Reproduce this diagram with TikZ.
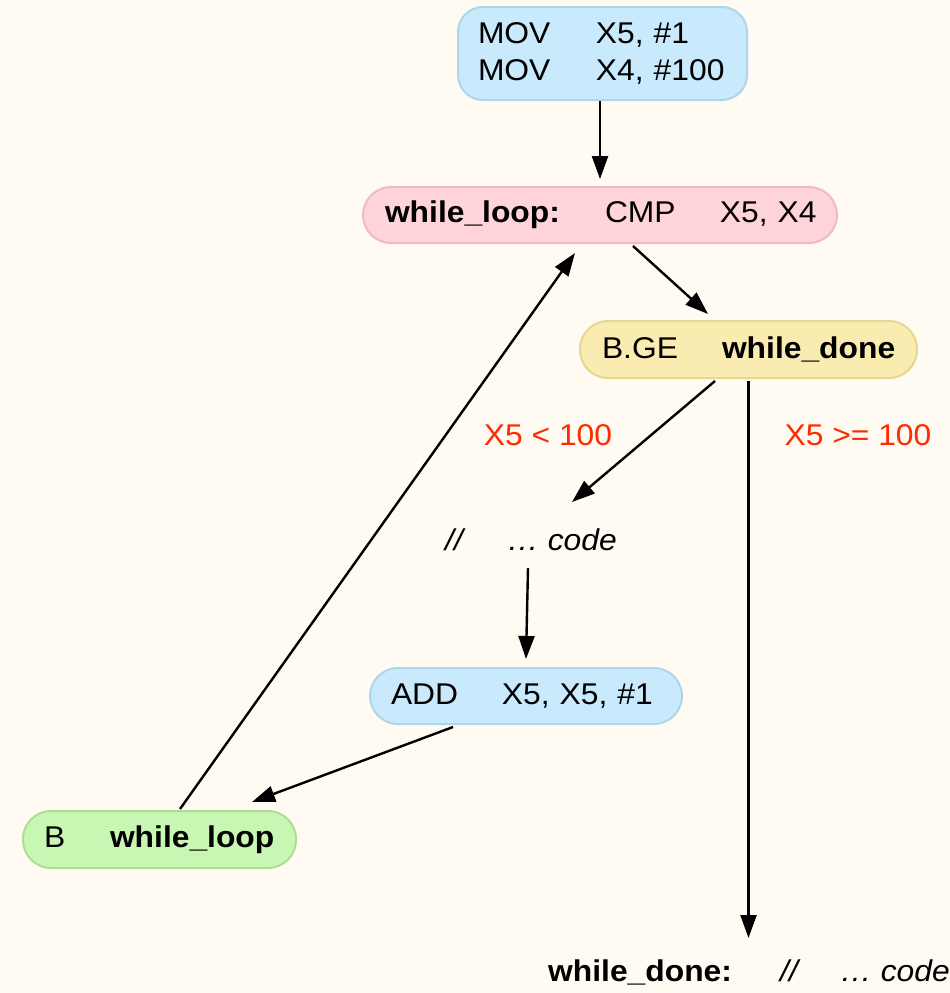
\documentclass[tikz,border=0pt]{standalone}
\usepackage{fontspec}
\setmainfont{Liberation Sans}[FakeStretch=1.06]
\usetikzlibrary{arrows.meta,calc}
\definecolor{bgc}{HTML}{FFFBF3}
\definecolor{bluef}{HTML}{C8EAFC}
\definecolor{blued}{HTML}{AFD5EA}
\definecolor{pinkf}{HTML}{FFD4D8}
\definecolor{pinkd}{HTML}{EDBBC0}
\definecolor{yelf}{HTML}{FAEBB0}
\definecolor{yeld}{HTML}{E6D792}
\definecolor{grnf}{HTML}{C8F7B4}
\definecolor{grnd}{HTML}{AEDC9A}
\definecolor{lbl}{HTML}{FF2A00}
\tikzset{
  box/.style={draw, line width=2pt, inner ysep=0pt, align=left, font=\fontsize{30}{37}\selectfont},
  plain/.style={inner sep=0pt, font=\fontsize{30}{37}\selectfont},
  lab/.style={inner sep=0pt, text=lbl, font=\fontsize{30}{37}\selectfont},
  arr/.style={line width=2.4pt, -{Triangle[length=23pt,width=16pt]}}
}
\begin{document}
\begin{tikzpicture}[x=1pt,y=1pt]
\path[fill=bgc] (0,0) rectangle (950,-993);
\useasboundingbox (0,0) rectangle (950,-993);

\node[box, fill=bluef, draw=blued, rounded corners=25pt, inner xsep=20pt, text width=249pt, minimum width=289pt, minimum height=93pt]
  (n1) at (602.5,-53.5) {\mbox{\makebox[118pt][l]{MOV}X5, \#1}\\\mbox{\makebox[118pt][l]{MOV}X4, \#100}};

\node[box, fill=pinkf, draw=pinkd, rounded corners=28pt, inner xsep=22pt, text width=430pt, minimum width=474pt, minimum height=56pt]
  (n2) at (600,-215) {\mbox{\makebox[220pt][l]{\bfseries while\_loop:}\makebox[115pt][l]{CMP}X5, X4}};

\node[box, fill=yelf, draw=yeld, rounded corners=28pt, inner xsep=22pt, text width=293pt, minimum width=337pt, minimum height=57pt]
  (n3) at (748.5,-349.5) {\mbox{\makebox[120pt][l]{B.GE}{\bfseries while\_done}}};

\node[plain, font=\fontsize{30}{37}\selectfont\itshape, anchor=west] (n4) at (445,-540) {\makebox[62pt][l]{//}… code};

\node[box, fill=bluef, draw=blued, rounded corners=28pt, inner xsep=21pt, text width=270pt, minimum width=312pt, minimum height=56pt]
  (n5) at (526,-696) {\mbox{\makebox[111pt][l]{ADD}X5, X5, \#1}};

\node[box, fill=grnf, draw=grnd, rounded corners=28pt, inner xsep=21pt, text width=231pt, minimum width=273pt, minimum height=57pt]
  (n6) at (159.5,-839.5) {\mbox{\makebox[66pt][l]{B}{\bfseries while\_loop}}};

\node[plain, anchor=west] (n7) at (548,-972) {\makebox[232pt][l]{\bfseries while\_done:}\itshape\makebox[60pt][l]{//}… code};

\node[lab] (l1) at (548,-435) {X5 < 100};
\node[lab] (l2) at (858,-435) {X5 >= 100};

\draw[arr, shorten >=7pt] (n1.south -| n2.north) -- (n2.north);
\draw[arr] ([xshift=33pt,yshift=-2pt]n2.south) -- ([xshift=-40.5pt,yshift=6pt]n3.north);
\draw[arr] ([xshift=-33.5pt,yshift=-2pt]n3.south) -- ($(n4.west)+(127,38)$);
\draw[arr] ([yshift=-2pt]n3.south) -- ($(n3.south |- n7.center)+(0,34)$);
\draw[arr] ($(n4.west)+(83,-28)$) -- ([yshift=8pt]n5.north);
\draw[arr] ([xshift=-73pt,yshift=-2pt]n5.south) -- ([xshift=92.5pt,yshift=8pt]n6.north);
\draw[arr] ([xshift=20.5pt,yshift=1pt]n6.north) -- ([xshift=-25pt,yshift=-9pt]n2.south);
\end{tikzpicture}
\end{document}
